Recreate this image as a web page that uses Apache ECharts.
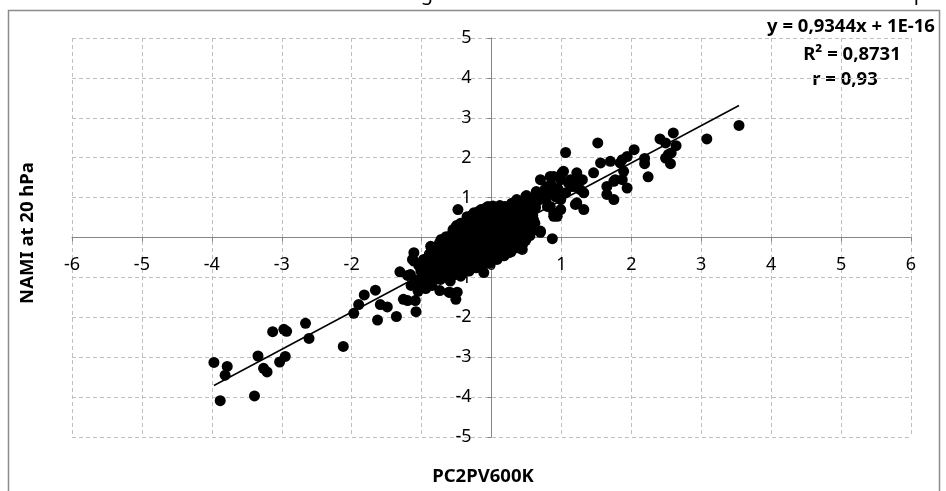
<!DOCTYPE html>
<html>
<head>
<meta charset="utf-8">
<script src="https://cdn.jsdelivr.net/npm/echarts@6/dist/echarts.min.js"></script>
<style>
  html, body { margin: 0; padding: 0; background: #fff; }
  #chart { width: 946px; height: 491px; }
</style>
</head>
<body>
<div id="chart"></div>
<script>
// axis ranges
const xRange = [-6, 6];
const yRange = [-5, 5];

// trendline from the fit
const slope = 0.9344;
const intercept = 1e-16;
const fitLines = ['y = 0,9344x + 1E-16', 'R² = 0,8731', 'r = 0,93'];

// points [PC2PV600K, NAMI]
const lowTail = [
  [-3.97,-3.13],[-3.88,-4.09],[-3.78,-3.23],[-3.81,-3.45],[-3.39,-3.97],[-3.34,-2.97],
  [-3.26,-3.28],[-3.21,-3.37],[-3.13,-2.36],[-3.03,-3.12],[-2.95,-2.98],[-2.97,-2.30],
  [-2.93,-2.35],[-2.66,-2.15],[-2.61,-2.53],[-2.12,-2.73],[-1.97,-1.90],[-1.90,-1.68],
  [-1.82,-1.44],[-1.66,-1.32],[-1.63,-2.07],[-1.59,-1.68],[-1.49,-1.74]
];
const leftCluster = [
  [-1.36,-1.98],[-1.31,-0.86],[-1.26,-1.55],[-1.20,-1.58],[-1.09,-1.58],[-1.08,-1.86],
  [-1.11,-0.38],[-1.11,-0.59],[-1.16,-0.93],[-1.09,-1.18],[-0.94,-1.28],[-1.01,-0.84],
  [-0.87,-0.22],[-1.13,-0.55],[-0.74,-1.33],[-0.61,-1.37],[-0.51,-1.55],[-0.49,-1.37],
  [-0.59,-1.38],[-0.11,-0.88],[-0.82,-0.55],[-0.73,-0.72],[-0.82,-0.88],[-0.73,-1.05],
  [-0.59,-1.09],[-0.44,-0.97],[-1.20,-0.95],[-1.15,-1.20],[-1.05,-1.35],[-1.04,-1.05],
  [-0.95,-1.10],[-0.85,-1.20],[-0.54,0.03],[-0.48,0.70],[-0.44,0.33],[-0.13,0.66]
];
const core = [
  [-1.02,-1.15],[-0.98,-0.92],[-1.04,-0.70],[-0.97,-0.55],
  [-0.91,-1.08],[-0.88,-0.86],[-0.93,-0.64],[-0.89,-0.42],[-0.86,-0.27],
  [-0.82,-1.02],[-0.79,-0.81],[-0.77,-0.60],[-0.83,-0.40],[-0.78,-0.22],
  [-0.71,-0.98],[-0.68,-0.77],[-0.73,-0.57],[-0.69,-0.36],[-0.66,-0.15],[-0.72,-0.05],
  [-0.62,-1.01],[-0.58,-0.83],[-0.61,-0.62],[-0.57,-0.44],[-0.63,-0.24],[-0.59,-0.06],[-0.56,0.10],
  [-0.52,-0.93],[-0.48,-0.74],[-0.51,-0.55],[-0.47,-0.35],[-0.53,-0.17],[-0.49,0.02],[-0.46,0.18],[-0.50,0.30],
  [-0.42,-0.90],[-0.39,-0.70],[-0.41,-0.50],[-0.37,-0.31],[-0.43,-0.12],[-0.38,0.07],[-0.40,0.25],[-0.36,0.42],
  [-0.32,-0.84],[-0.28,-0.66],[-0.31,-0.45],[-0.27,-0.26],[-0.33,-0.08],[-0.29,0.12],[-0.26,0.30],[-0.31,0.48],[-0.28,0.56],
  [-0.22,-0.76],[-0.18,-0.57],[-0.21,-0.38],[-0.17,-0.19],[-0.23,0.00],[-0.19,0.19],[-0.16,0.37],[-0.21,0.54],[-0.18,0.66],
  [-0.12,-0.70],[-0.08,-0.52],[-0.11,-0.33],[-0.07,-0.13],[-0.13,0.06],[-0.09,0.24],[-0.06,0.43],[-0.11,0.60],[-0.08,0.74],
  [-0.02,-0.64],[0.02,-0.46],[-0.01,-0.27],[0.03,-0.08],[-0.03,0.12],[0.01,0.30],[0.04,0.48],[-0.02,0.65],[0.02,0.79],
  [0.08,-0.55],[0.12,-0.37],[0.09,-0.18],[0.13,0.01],[0.07,0.20],[0.11,0.38],[0.14,0.56],[0.09,0.72],[0.12,0.80],
  [0.18,-0.46],[0.22,-0.28],[0.19,-0.09],[0.23,0.10],[0.17,0.29],[0.21,0.47],[0.24,0.64],[0.19,0.78],
  [0.28,-0.36],[0.32,-0.18],[0.29,0.02],[0.33,0.20],[0.27,0.39],[0.31,0.57],[0.34,0.72],[0.29,0.86],
  [0.38,-0.26],[0.42,-0.07],[0.39,0.12],[0.43,0.31],[0.37,0.50],[0.41,0.68],[0.44,0.85],
  [0.48,-0.02],[0.52,0.16],[0.49,0.35],[0.53,0.53],[0.47,0.72],[0.51,0.90],
  [0.58,0.17],[0.62,0.36],[0.59,0.55],[0.63,0.75]
];
const coreFill = [
  [-0.85,-0.97],[-0.84,-0.74],[-0.86,-0.52],[-0.85,-0.33],
  [-0.75,-0.90],[-0.74,-0.68],[-0.76,-0.47],[-0.75,-0.29],[-0.74,-0.12],
  [-0.65,-0.90],[-0.64,-0.68],[-0.66,-0.50],[-0.65,-0.32],[-0.64,-0.10],[-0.65,0.02],
  [-0.55,-0.90],[-0.54,-0.64],[-0.56,-0.50],[-0.55,-0.28],[-0.54,-0.10],[-0.55,0.20],
  [-0.45,-0.82],[-0.44,-0.62],[-0.46,-0.44],[-0.45,-0.23],[-0.44,-0.03],[-0.45,0.12],[-0.44,0.36],
  [-0.35,-0.78],[-0.34,-0.57],[-0.36,-0.38],[-0.35,-0.18],[-0.34,0.00],[-0.35,0.20],[-0.34,0.35],[-0.35,0.52],
  [-0.25,-0.72],[-0.24,-0.52],[-0.26,-0.34],[-0.25,-0.14],[-0.24,0.05],[-0.25,0.23],[-0.24,0.42],[-0.25,0.62],
  [-0.15,-0.64],[-0.14,-0.46],[-0.16,-0.27],[-0.15,-0.08],[-0.14,0.12],[-0.15,0.30],[-0.14,0.48],[-0.15,0.70],
  [-0.05,-0.60],[-0.04,-0.40],[-0.06,-0.20],[-0.05,0.00],[-0.04,0.18],[-0.05,0.36],[-0.04,0.55],[-0.05,0.78],
  [0.05,-0.52],[0.06,-0.33],[0.04,-0.14],[0.05,0.05],[0.06,0.24],[0.05,0.42],[0.06,0.60],[0.05,0.74],
  [0.15,-0.44],[0.16,-0.24],[0.14,-0.05],[0.15,0.14],[0.16,0.34],[0.15,0.52],[0.16,0.70],
  [0.25,-0.30],[0.26,-0.12],[0.24,0.06],[0.25,0.26],[0.26,0.45],[0.25,0.62],[0.26,0.80],
  [0.35,-0.22],[0.36,-0.02],[0.34,0.15],[0.35,0.35],[0.36,0.55],[0.35,0.78],
  [0.45,-0.15],[0.46,0.06],[0.44,0.22],[0.45,0.42],[0.46,0.62],[0.45,0.80],
  [0.55,0.05],[0.56,0.42],[0.54,0.62],[0.55,0.80]
];
const band = [
  [0.87,-0.03],[0.70,0.16],[0.70,0.13],[0.44,-0.30],[0.49,-0.07],[0.25,-0.38],[0.60,0.45],
  [0.56,0.28],[0.89,0.53],[0.99,0.70],[0.80,0.78],[0.89,0.62],[0.94,0.53],[0.84,0.78],
  [1.32,0.70],[1.22,0.87],[0.99,0.95],[0.49,1.03],[0.36,0.95],[0.50,1.05],[0.66,0.92],
  [0.72,1.05],[0.60,1.00],[0.78,0.95],[0.82,1.12],[0.86,1.30],[0.76,1.20],[0.92,1.02],
  [0.95,1.22],[0.64,1.15],[0.70,1.45],[0.80,1.28],[0.89,1.53],[1.01,1.62],[1.10,1.37],
  [1.22,1.62],[1.27,1.45],[1.15,1.28],[1.32,1.12],[1.03,1.66],[0.99,1.45],[0.84,1.53],
  [1.30,1.45],[1.20,0.83],[1.13,1.45],[1.06,1.12],[1.27,1.20],[1.18,1.28],[1.06,2.13]
];
const upperRight = [
  [1.46,1.62],[1.52,2.37],[1.56,1.87],[1.70,1.91],[1.84,1.87],[1.94,2.03],[1.87,1.95],
  [1.89,1.66],[1.87,1.45],[1.65,1.28],[1.75,0.95],[1.77,1.45],[1.94,1.24],[1.65,1.08],
  [1.75,1.41],[2.04,2.20],[2.19,1.98],[2.19,1.85],[2.24,1.52],[2.41,2.47],[2.49,2.37],
  [2.60,2.62],[2.64,2.30],[2.53,2.08],[2.57,2.12],[2.49,1.99],[2.56,1.85],[3.08,2.47],
  [3.54,2.81]
];

const points = lowTail.concat(leftCluster, core, coreFill, band, upperRight);

// trendline spans the data's x range
let xs = points.map(p => p[0]);
let x0 = Math.min(...xs), x1 = Math.max(...xs);
let trend = [[x0, slope * x0 + intercept], [x1, slope * x1 + intercept]];

let myChart = echarts.init(document.getElementById('chart'));

// plot box, axes cross at 0
const gridBox = { left: 72, right: 35, top: 38, bottom: 54 };
const plotW = 946 - gridBox.left - gridBox.right;
const plotH = 491 - gridBox.top - gridBox.bottom;
const xZeroOffset = -(0 - xRange[0]) / (xRange[1] - xRange[0]) * plotW;
const yZeroOffset = -(0 - yRange[0]) / (yRange[1] - yRange[0]) * plotH;

const gridLine = { show: true, lineStyle: { color: '#bfbfbf', type: [4, 3], width: 1 } };
const axisGray = '#868686';
const tickFont = { fontFamily: 'Noto Sans', fontSize: 18, color: '#000' };
const boldFont = { fontFamily: 'Noto Sans', fontWeight: 'bold', fontSize: 18.5, fill: '#000' };

let option = {
    animation: false,
    backgroundColor: '#fff',
    grid: gridBox,
    xAxis: {
        type: 'value',
        min: xRange[0], max: xRange[1], interval: 1,
        offset: yZeroOffset,
        axisLine: { onZero: false, lineStyle: { color: axisGray, width: 1 } },
        axisTick: { show: true, length: 4, lineStyle: { color: axisGray } },
        axisLabel: Object.assign({ margin: 18 }, tickFont),
        splitLine: gridLine
    },
    yAxis: {
        type: 'value',
        min: yRange[0], max: yRange[1], interval: 1,
        offset: xZeroOffset,
        axisLine: { onZero: false, lineStyle: { color: axisGray, width: 1 } },
        axisTick: { show: true, length: 4, lineStyle: { color: axisGray } },
        axisLabel: Object.assign({ margin: 20 }, tickFont),
        splitLine: gridLine
    },
    graphic: [
        { type: 'rect', shape: { x: 8.5, y: 10.5, width: 931, height: 500 },
          style: { fill: 'none', stroke: '#8c8c8c', lineWidth: 1.5 }, silent: true, z: -1 },
        { type: 'text', x: 851, y: 27, style: Object.assign({ text: fitLines[0], align: 'center', verticalAlign: 'middle' }, boldFont) },
        { type: 'text', x: 852, y: 55, style: Object.assign({ text: fitLines[1], align: 'center', verticalAlign: 'middle' }, boldFont) },
        { type: 'text', x: 845, y: 80, style: Object.assign({ text: fitLines[2], align: 'center', verticalAlign: 'middle' }, boldFont) },
        { type: 'text', x: 483, y: 477, style: Object.assign({ text: 'PC2PV600K', align: 'center', verticalAlign: 'middle' }, boldFont) },
        { type: 'text', x: 28, y: 233, rotation: Math.PI / 2,
          style: Object.assign({ text: 'NAMI at 20 hPa', align: 'center', verticalAlign: 'middle' }, boldFont) },
        // descenders of the cut-off title above
        { type: 'text', x: 427, y: -6, style: Object.assign({ text: 'g', align: 'center', verticalAlign: 'middle' }, boldFont, { fontSize: 20, fontWeight: 'normal' }) },
        { type: 'text', x: 920, y: -6, style: Object.assign({ text: 'p', align: 'center', verticalAlign: 'middle' }, boldFont, { fontSize: 20, fontWeight: 'normal' }) }
    ],
    series: [
        {
            type: 'scatter',
            data: points,
            symbol: 'circle',
            symbolSize: 11,
            itemStyle: { color: '#000', opacity: 1 },
            z: 3
        },
        {
            type: 'line',
            data: trend,
            symbol: 'none',
            lineStyle: { color: '#000', width: 1.5 },
            z: 4
        }
    ]
};
myChart.setOption(option);
</script>
</body>
</html>
